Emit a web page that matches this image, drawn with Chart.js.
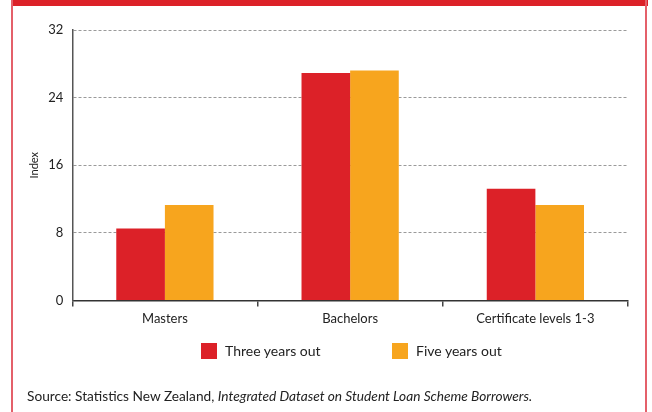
<!DOCTYPE html>
<html>
<head>
<meta charset="utf-8">
<script src="https://cdn.jsdelivr.net/npm/chart.js@4.4.0/dist/chart.umd.min.js"></script>
<style>
    body { margin: 0; background: #fff; font-family: Lato, "Open Sans", sans-serif; }
    #wrap { position: relative; width: 652px; height: 412px; overflow: hidden; }
    #topBar { position: absolute; left: 11px; top: 0; width: 637px; height: 6px; background: #dc2128; }
    #leftLine { position: absolute; left: 11px; top: 0; width: 2px; height: 412px; background: #e4606a; }
    #rightLine { position: absolute; left: 645px; top: 0; width: 2px; height: 412px; background: #e4606a; }
    .legendItem { position: absolute; top: 343px; font-size: 14px; color: #222; line-height: 16px; }
    .legendItem span { display: inline-block; width: 16px; height: 16px; vertical-align: top; margin-right: 8px; }
    #source { position: absolute; left: 27px; top: 387px; font-size: 13.7px; color: #222; }
</style>
</head>
<body>
<div id="wrap">
    <div id="topBar"></div>
    <div id="leftLine"></div>
    <div id="rightLine"></div>
    <canvas id="loanChart" width="652" height="412"></canvas>
    <div class="legendItem" style="left:201px"><span style="background:#dc2128"></span>Three years out</div>
    <div class="legendItem" style="left:392px"><span style="background:#f7a51e"></span>Five years out</div>
    <div id="source">Source: Statistics New Zealand, <i>Integrated Dataset on Student Loan Scheme Borrowers.</i></div>
</div>

<script>
// data
const categories = ["Masters", "Bachelors", "Certificate levels 1-3"];
const threeYearsOut = [8.5, 26.9, 13.2];
const fiveYearsOut = [11.3, 27.2, 11.3];
const yTicks = [0, 8, 16, 24, 32];

const red = "#dc2128";
const orange = "#f7a51e";

new Chart("loanChart", {
    type: "bar",
    data: {
        labels: categories,
        datasets: [
            {
                label: "Three years out",
                data: threeYearsOut,
                backgroundColor: red,
                borderWidth: 0,
            },
            {
                label: "Five years out",
                data: fiveYearsOut,
                backgroundColor: orange,
                borderWidth: 0,
            },
        ]
    },
    options: {
        responsive: false,
        animation: false,
        barPercentage: 1,
        categoryPercentage: 0.525,
        layout: {
            padding: {top: 30, left: 24, right: 24, bottom: 80}
        },
        plugins: {
            legend: { display: false },
            tooltip: { enabled: false }
        },
        scales: {
            x: {
                grid: {
                    offset: true,
                    drawOnChartArea: false,
                    drawTicks: true,
                    tickLength: 6,
                    color: "#444",
                    lineWidth: 1.5,
                },
                border: { color: "#333", width: 1.5 },
                ticks: {
                    color: "#222",
                    padding: 5,
                    font: { family: "Lato", size: 13 },
                }
            },
            y: {
                min: 0,
                max: 32,
                afterBuildTicks: (axis) => {
                    axis.ticks = yTicks.map((v) => ({ value: v }));
                },
                grid: {
                    drawTicks: false,
                    // no gridline at zero, the x axis sits there
                    color: (ctx) => ctx.tick && ctx.tick.value === 0 ? "rgba(0,0,0,0)" : "#9a9a9a",
                    lineWidth: 1,
                },
                border: { color: "#555", width: 1.5, dash: [3, 2] },
                ticks: {
                    color: "#222",
                    padding: 9,
                    font: { family: "Lato", size: 13 },
                },
                title: {
                    display: true,
                    text: "Index",
                    color: "#222",
                    padding: {top: 4, bottom: -2},
                    font: { family: "Lato", size: 11 },
                }
            }
        }
    }
});
</script>
</body>
</html>
